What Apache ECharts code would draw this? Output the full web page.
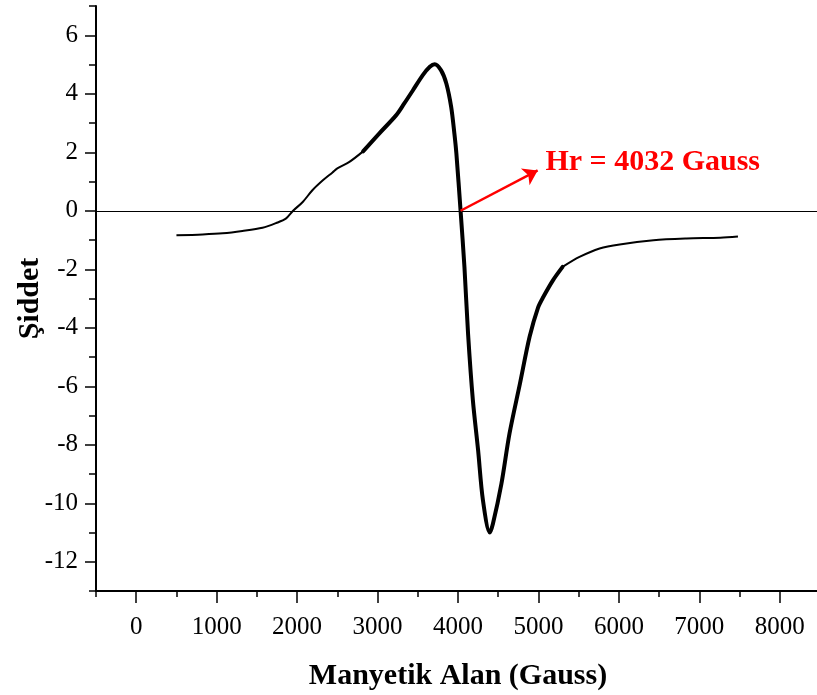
<!DOCTYPE html>
<html>
<head>
<meta charset="utf-8">
<script src="https://cdn.jsdelivr.net/npm/echarts@6/dist/echarts.min.js"></script>
<style>
  html, body { margin: 0; padding: 0; background: #ffffff; }
  #chart { width: 817px; height: 695px; }
</style>
</head>
<body>
<div id="chart"></div>
<script>
// ESR derivative spectrum: field (Gauss) vs. intensity
const fieldLeft = [500, 825, 1075, 1320, 1570, 1740, 1860, 1950, 2070, 2190, 2320, 2440, 2500, 2650, 2820];
const intensityLeft = [-0.84, -0.81, -0.77, -0.69, -0.58, -0.42, -0.27, 0.0, 0.30, 0.70, 1.04, 1.31, 1.45, 1.67, 2.03];

const fieldCenter = [2820, 3020, 3230, 3330, 3440, 3560, 3650, 3710, 3790, 3855, 3915, 3955, 3980, 4032, 4080, 4125, 4185, 4250, 4310, 4395, 4435, 4540, 4640, 4770, 4890, 4995, 5060, 5180, 5300];
const intensityCenter = [2.03, 2.64, 3.26, 3.66, 4.12, 4.63, 4.92, 5.01, 4.80, 4.35, 3.55, 2.64, 1.95, 0.0, -1.92, -4.20, -6.48, -8.19, -9.90, -11.0, -10.69, -9.33, -7.62, -5.91, -4.31, -3.31, -2.95, -2.38, -1.92];

const fieldRight = [5300, 5510, 5760, 6010, 6430, 6840, 7260, 7480];
const intensityRight = [-1.92, -1.58, -1.29, -1.15, -1.01, -0.95, -0.92, -0.88];

// Axis tick labels
const xTickLabels = [0, 1000, 2000, 3000, 4000, 5000, 6000, 7000, 8000];
const yTickLabels = [-12, -10, -8, -6, -4, -2, 0, 2, 4, 6];

// Resonance field annotation
const hrField = 4032;
const arrowEnd = [4990, 1.38];
const hrTextPos = [5080, 1.66];

const pairs = (xs, ys) => xs.map((x, i) => [x, ys[i]]);

const serif = 'Liberation Serif, Times New Roman, serif';
const axisColor = '#000000';

const chart = echarts.init(document.getElementById('chart'), null, { renderer: 'canvas' });

const baseX = {
  type: 'value', min: -500, max: 8500, interval: 500,
  gridIndex: 0, position: 'bottom', splitLine: { show: false }
};
const baseY = {
  type: 'value', min: -13, max: 7, interval: 1,
  gridIndex: 0, position: 'left', splitLine: { show: false }
};

const option = {
  animation: false,
  backgroundColor: '#ffffff',
  grid: { left: 96, top: 6, width: 724, height: 585, containLabel: false, outerBoundsMode: 'none' },
  xAxis: [
    Object.assign({}, baseX, {
      name: 'Manyetik Alan (Gauss)',
      nameLocation: 'middle',
      nameGap: 70,
      nameTextStyle: { fontFamily: serif, fontWeight: 'bold', fontSize: 30, color: '#000' },
      axisLine: { show: true, onZero: false, lineStyle: { color: axisColor, width: 2 } },
      axisTick: { show: true, length: 6, lineStyle: { color: axisColor, width: 1.5 } },
      axisLabel: {
        show: true, customValues: xTickLabels, margin: 24,
        fontFamily: serif, fontSize: 25, color: '#000',
        formatter: v => String(v)
      }
    }),
    Object.assign({}, baseX, {
      axisLine: { show: false, onZero: false },
      axisTick: { show: true, customValues: xTickLabels, length: 12, lineStyle: { color: axisColor, width: 1.5 } },
      axisLabel: { show: false }
    })
  ],
  yAxis: [
    Object.assign({}, baseY, {
      name: 'Şiddet',
      nameLocation: 'middle',
      nameGap: 51,
      nameMoveOverlap: false,
      nameTextStyle: { fontFamily: serif, fontWeight: 'bold', fontSize: 30, color: '#000' },
      axisLine: { show: true, onZero: false, lineStyle: { color: axisColor, width: 2 } },
      axisTick: { show: true, length: 7, lineStyle: { color: axisColor, width: 1.5 } },
      axisLabel: {
        show: true, customValues: yTickLabels, margin: 18,
        fontFamily: serif, fontSize: 25, color: '#000',
        formatter: v => String(v)
      }
    }),
    Object.assign({}, baseY, {
      axisLine: { show: false, onZero: false },
      axisTick: { show: true, customValues: yTickLabels, length: 11, lineStyle: { color: axisColor, width: 1.5 } },
      axisLabel: { show: false }
    })
  ],
  series: [
    {
      name: 'wing-left', type: 'line', xAxisIndex: 0, yAxisIndex: 0,
      data: pairs(fieldLeft, intensityLeft),
      showSymbol: false, smooth: 0.3,
      lineStyle: { color: '#000', width: 2 },
      markLine: {
        silent: true, symbol: 'none', label: { show: false },
        lineStyle: { color: '#000', width: 1, type: 'solid' },
        data: [{ yAxis: 0 }]
      },
      z: 3
    },
    {
      name: 'center', type: 'line', xAxisIndex: 0, yAxisIndex: 0,
      data: pairs(fieldCenter, intensityCenter),
      showSymbol: false, smooth: 0.3,
      lineStyle: { color: '#000', width: 4, join: 'round', cap: 'round' },
      markLine: {
        silent: true, symbol: ['none', 'arrow'], symbolSize: 14,
        label: { show: false },
        lineStyle: { color: '#ff0000', width: 2.5, type: 'solid' },
        data: [[{ coord: [hrField, 0] }, { coord: arrowEnd }]]
      },
      markPoint: {
        silent: true, symbol: 'circle', symbolSize: 1,
        itemStyle: { color: 'rgba(0,0,0,0)' },
        label: {
          show: true, position: 'right', distance: 0,
          fontFamily: serif, fontWeight: 'bold', fontSize: 30, color: '#ff0000',
          formatter: 'Hr = ' + hrField + ' Gauss'
        },
        data: [{ coord: hrTextPos }]
      },
      z: 4
    },
    {
      name: 'wing-right', type: 'line', xAxisIndex: 0, yAxisIndex: 0,
      data: pairs(fieldRight, intensityRight),
      showSymbol: false, smooth: 0.3,
      lineStyle: { color: '#000', width: 2 },
      z: 3
    }
  ]
};

chart.setOption(option);
</script>
</body>
</html>
